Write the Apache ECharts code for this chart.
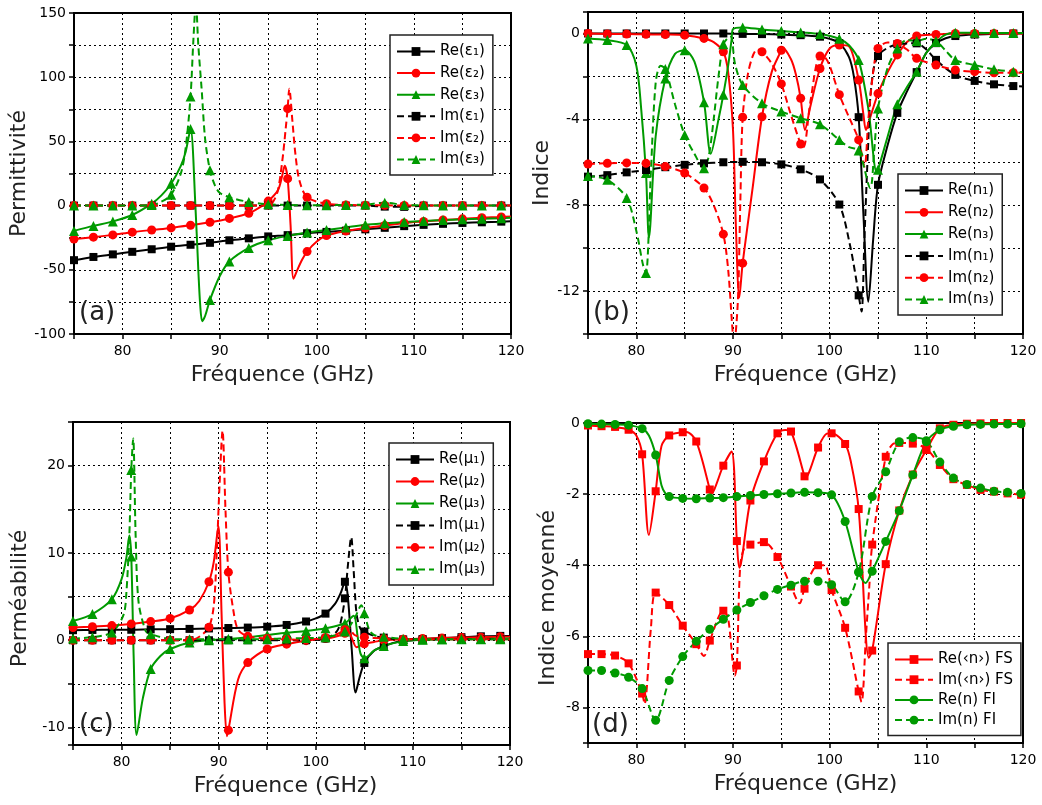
<!DOCTYPE html>
<html><head><meta charset="utf-8">
<script src="https://cdn.jsdelivr.net/npm/echarts/dist/echarts.min.js"></script>
<style>html,body{margin:0;padding:0;background:#fff}#c{width:1042px;height:805px}</style>
</head><body><div id="c"></div>
<script>
// ---------- DATA ----------
// marker frequencies (GHz) for panels a, b, c
const xOdd = [75,77,79,81,83,85,87,89,91,93,95,97,99,101,103,105,107,109,111,113,115,117,119];
// marker frequencies for panel d
const xD = [75,76.4,77.8,79.2,80.6,82,83.4,84.8,86.2,87.6,89,90.4,91.8,93.2,94.6,96,97.4,98.8,100.2,101.6,103,104.4,105.8,107.2,108.6,110,111.4,112.8,114.2,115.6,117,118.4,119.8];

// (a) Permittivité
const reE1 = [-42.5,-40,-38,-36,-34,-32,-30.5,-29,-27,-25.5,-24,-23,-21.5,-20.5,-19.5,-18.5,-17.3,-16,-15,-14.2,-13.5,-13,-12.5];
const reE1x = [[120,-12.2]];
const reE2 = [-26,-24.6,-22.8,-20.7,-19,-17.4,-15.3,-13,-10,-6,3.5,21,-35.8,-23.3,-19.8,-17.5,-15.5,-13.5,-12.3,-11.2,-10.3,-9.5,-8.8];
const reE2x = [[94,-2],[96,12],[96.4,22],[96.7,31],[97.3,-15],[97.6,-57],[98,-50],[98.5,-42],[100,-28],[120,-8.4]];
const reE3 = [-19.7,-15.8,-12.3,-7.3,1.5,17,59.7,-73.5,-43.5,-33,-27,-23.6,-21,-19,-17,-15,-13.8,-12.8,-12,-11.3,-10.7,-10.2,-9.8];
const reE3x = [[84,8],[86,31],[86.5,42],[87.5,0],[87.8,-50],[88,-78],[88.2,-90],[88.5,-86],[90,-55],[120,-9.5]];
const imE1 = [0,0,0,0,0,0,0,0,0,0,0,0,0,0,0,0,-0.8,-1,0,0,0,0,0];
const imE1x = [[120,0]];
const imE2 = [0,0,0,0,0,0,0,0,0,0,0.5,75.5,6.5,1.5,0.5,0.3,0.2,0.1,0,0,0,0,0];
const imE2x = [[95.5,3],[96,12],[96.5,38],[96.8,60],[97.17,91],[97.5,65],[97.8,40],[98.2,20],[120,0]];
const imE3 = [0,0,0,0,0.5,8.5,85,27.5,6.5,2.8,1,0.5,0.3,0.3,0.5,0.8,2.3,0.5,0.2,0,0,0,0];
const imE3x = [[84,3],[86,25],[86.5,45],[87.3,130],[87.55,158],[87.8,125],[88.15,90],[88.5,52],[89.5,16],[90,10],[120,0]];

// (b) Indice
const reN1 = [0,0,0,0,0,0,0,0,-0.02,-0.03,-0.05,-0.08,-0.15,-0.45,-3.9,-7.05,-3.7,-1.8,-0.45,-0.12,-0.05,-0.02,0];
const reN1x = [[100,-0.25],[102,-1.1],[102.5,-2],[103.5,-8.5],[104,-12.5],[104.5,-9.6],[106,-5.2],[108,-2.7],[110,-0.9],[112,-0.22],[120,0]];
const reN2 = [0,-0.02,-0.03,-0.04,-0.05,-0.08,-0.23,-0.85,-10.7,-3.88,-0.78,-3.02,-1.63,-0.54,-2.17,-2.8,-1.0,-0.12,-0.05,0,0,0,0];
const reN2x = [[88,-0.4],[89.5,-1.8],[90,-4.5],[90.3,-9],[90.65,-12.3],[92,-7.3],[94,-1.8],[95.1,-0.65],[96,-1.2],[96.5,-1.9],[97.45,-4.5],[98,-3.4],[100,-0.7],[102,-0.6],[103.5,-3.8],[103.75,-4.5],[104.2,-3.9],[106,-1.8],[108,-0.4],[120,0]];
const reN3 = [-0.23,-0.31,-0.54,-6.5,-2.1,-0.78,-3.2,-2.85,0.28,0.19,0.12,0.05,-0.03,-0.25,-1.24,-6.35,-3.3,-1.78,-0.4,0.03,0.03,0.02,0.02];
const reN3x = [[80,-1.5],[80.5,-3.5],[81.3,-9.5],[82,-4.8],[84,-0.95],[86,-1.3],[87.7,-5.6],[88.5,-4],[89.5,-1.5],[89.85,-0.3],[90,0.2],[102,-0.55],[104,-3.5],[104.85,-6.45],[106,-4.8],[108,-2.5],[110,-0.9],[112,-0.05],[120,0.02]];
const imN1 = [-6.67,-6.6,-6.47,-6.36,-6.23,-6.12,-6.05,-6.0,-5.98,-6.0,-6.1,-6.33,-6.8,-7.97,-12.2,-1.05,-0.5,-0.46,-1.23,-1.93,-2.21,-2.37,-2.45];
const imN1x = [[102.1,-9.85],[102.8,-11.6],[103.3,-12.95],[103.6,-9.5],[104,-5],[104.3,-2.5],[110,-0.75],[120,-2.47]];
const imN2 = [-6.08,-6.05,-6.03,-6.05,-6.2,-6.5,-7.2,-9.35,-3.9,-0.85,-2.35,-5.15,-1.05,-2.85,-4.96,-0.7,-0.47,-1.16,-1.47,-1.7,-1.78,-1.83,-1.83];
const imN2x = [[88,-8],[89.5,-11],[89.9,-13.5],[90.1,-14.5],[90.5,-12.5],[90.75,-8],[91.5,-2],[92,-1.1],[92.5,-0.75],[94,-1.4],[96,-3.8],[97.3,-5.3],[98,-3.2],[99.5,-1.1],[100,-1.5],[102,-3.9],[103.6,-6.2],[104,-4],[104.5,-1.8],[106,-0.42],[108,-0.75],[120,-1.83]];
const imN3 = [-6.64,-6.82,-7.67,-11.16,-1.65,-4.73,-6.28,-0.5,-2.4,-3.25,-3.64,-3.95,-4.23,-4.96,-5.45,-3.5,-0.7,-0.35,-0.35,-1.24,-1.47,-1.67,-1.78];
const imN3x = [[80,-9.2],[80.7,-10.8],[81.5,-6.5],[82,-2.3],[82.5,-1.5],[84,-3.3],[86,-5.6],[87.5,-5.7],[88,-4],[88.5,-2],[89.5,-0.2],[89.8,-0.15],[90.2,-1.4],[102,-5.3],[104.2,-7.2],[104.6,-5.5],[106,-1.6],[108,-0.3],[110,-0.25],[112,-0.8],[120,-1.8]];

// (c) Perméabilité
const reM1 = [1.15,1.18,1.2,1.2,1.25,1.27,1.3,1.35,1.4,1.45,1.55,1.75,2.15,3.05,6.7,-2.6,-0.7,-0.1,0.1,0.25,0.35,0.45,0.5];
const reM1x = [[100,2.5],[102,4.2],[102.6,5.5],[103.3,5],[103.7,-1],[104.1,-6],[104.5,-4.3],[106,-1.2],[108,-0.3],[120,0.5]];
const reM2 = [1.45,1.55,1.68,1.87,2.14,2.5,3.47,6.7,-10.3,-2.56,-1.0,-0.45,-0.05,0.2,0.8,-0.4,0.0,0.1,0.2,0.25,0.3,0.35,0.4];
const reM2x = [[88,4.5],[89.5,9],[89.97,13.1],[90.3,3],[90.6,-7],[90.85,-11],[92,-4.5],[102,0.4],[103.3,1.1],[103.8,0],[104.2,-0.8],[106,-0.2],[120,0.4]];
const reM3 = [2.2,3.0,4.7,9.6,-3.3,-1.0,-0.25,0.0,0.15,0.35,0.6,0.85,1.05,1.37,1.95,-2.06,-0.65,-0.1,0.05,0.1,0.15,0.15,0.2];
const reM3x = [[80,7],[80.5,9.5],[80.8,12],[81.25,-2],[81.55,-10.85],[82.2,-6.6],[84,-1.8],[103.9,2.8],[104.3,0.5],[104.6,-1.5],[106,-1.2],[120,0.2]];
const imM1 = [0,0,0,0,0,0,0,0,0,0,0,0,0,0.2,4.8,1.0,0.3,0.1,0.1,0.1,0.1,0.1,0.1];
const imM1x = [[102,0.8],[102.5,1.8],[103.3,8.5],[103.65,11.8],[103.9,8],[104.2,3],[104.6,1.3],[106,0.5],[120,0.1]];
const imM2 = [0,0,0,0,0,0,0,1.5,7.8,0.45,0.2,0.1,0.05,0.3,1.2,0.35,0.2,0.1,0.1,0.1,0.1,0.1,0.1];
const imM2x = [[88,0.4],[89.5,4],[89.8,10],[90.1,18],[90.4,24],[90.7,15],[91.5,3.5],[92,1.2],[102,0.6],[103.3,1.5],[104,0.6],[120,0.1]];
const imM3 = [0.2,0.35,0.9,19.5,0.7,0.15,0.1,0.1,0.1,0.1,0.15,0.2,0.25,0.35,1.0,3.1,0.4,0.15,0.1,0.1,0.1,0.1,0.1];
const imM3x = [[80.2,2.9],[80.5,5.5],[80.8,12],[81.2,23.1],[81.45,12],[81.75,4.4],[82.5,1.0],[104,2.5],[104.7,4.0],[105.5,1.2],[106,0.6],[120,0.1]];

// (d) Indice moyenné
const reFS = [-0.07,-0.09,-0.11,-0.19,-0.88,-1.92,-0.35,-0.26,-0.52,-1.87,-1.2,-3.32,-2.18,-1.08,-0.29,-0.24,-1.5,-0.69,-0.29,-0.59,-2.42,-6.4,-3.97,-2.46,-1.45,-0.76,-0.15,-0.05,-0.02,-0.01,0,0,0];
const reFSx = [[80,-0.35],[81.3,-3.15],[82.6,-0.65],[85.2,-0.25],[87.7,-2.0],[89.85,-0.8],[90.65,-4.07],[95.4,-0.2],[97.45,-1.55],[99.7,-0.3],[102.2,-1.1],[104.05,-6.6],[120,0]];
const imFS = [-6.5,-6.5,-6.54,-6.76,-7.61,-4.77,-5.12,-5.7,-6.22,-6.12,-5.28,-6.82,-3.42,-3.35,-3.77,-4.6,-4.66,-4.0,-4.7,-5.76,-7.55,-3.42,-0.95,-0.56,-0.58,-0.72,-1.18,-1.58,-1.74,-1.88,-1.93,-1.98,-2.02];
const imFSx = [[80.85,-7.9],[81.5,-5.8],[87,-6.55],[89.5,-5.5],[90.2,-7.1],[90.75,-4.0],[91.2,-3.5],[96.9,-5.07],[99.5,-4.0],[103.3,-7.85],[103.75,-6],[104.1,-4.6],[106.5,-0.6],[120,-2.03]];
const reFI = [-0.02,-0.03,-0.04,-0.06,-0.16,-0.9,-2.07,-2.12,-2.13,-2.11,-2.1,-2.07,-2.04,-2.01,-1.99,-1.97,-1.95,-1.96,-2.02,-2.77,-4.19,-4.17,-3.33,-2.47,-1.46,-0.53,-0.19,-0.09,-0.05,-0.04,-0.03,-0.03,-0.02];
const reFIx = [[81.3,-0.35],[82.6,-1.75],[83,-1.98],[103.7,-4.5],[120,-0.02]];
const imFI = [-6.96,-6.96,-7.03,-7.15,-7.47,-8.36,-7.24,-6.57,-6.14,-5.8,-5.52,-5.26,-5.05,-4.86,-4.68,-4.56,-4.45,-4.45,-4.55,-5.03,-4.2,-2.07,-1.37,-0.53,-0.41,-0.5,-1.1,-1.55,-1.73,-1.83,-1.92,-1.95,-1.98];
const imFIx = [[120,-2.0]];

// names
const namesA = ['Re(ε₁)','Re(ε₂)','Re(ε₃)','Im(ε₁)','Im(ε₂)','Im(ε₃)'];
const namesB = ['Re(n₁)','Re(n₂)','Re(n₃)','Im(n₁)','Im(n₂)','Im(n₃)'];
const namesC = ['Re(μ₁)','Re(μ₂)','Re(μ₃)','Im(μ₁)','Im(μ₂)','Im(μ₃)'];
const namesD = ['Re(‹n›) FS','Im(‹n›) FS','Re(n) FI','Im(n) FI'];
const xName = 'Fréquence (GHz)';
const yNames = ['Permittivité','Indice','Perméabilité','Indice moyenné'];
const panelTags = ['(a)','(b)','(c)','(d)'];

// ---------- STYLE / BUILD ----------
const K = '#000000', R = '#ff0000', G = '#009a00';
const FONT = '"DejaVu Sans", Verdana, sans-serif';
const symSize = {rect: 8, circle: 9, triangle: 10};

const series = [];
function curve(gi, name, color, symbol, dashed, mx, my, extra) {
  const markers = mx.map((x, i) => [x, my[i]]);
  const line = markers.concat(extra).sort((a, b) => a[0] - b[0]);
  series.push({
    type: 'line', name, xAxisIndex: gi, yAxisIndex: gi, data: line,
    smooth: 0.3, showSymbol: false, symbol, symbolSize: symSize[symbol],
    lineStyle: {color, width: 2, type: dashed ? [7, 4] : 'solid'},
    itemStyle: {color}, z: 2, silent: true, clip: true
  });
  series.push({
    type: 'scatter', name, xAxisIndex: gi, yAxisIndex: gi, data: markers,
    symbol, symbolSize: symSize[symbol], itemStyle: {color, opacity: 1}, z: 3, silent: true, clip: true
  });
}
curve(0, namesA[0], K, 'rect', false, xOdd, reE1, reE1x);
curve(0, namesA[1], R, 'circle', false, xOdd, reE2, reE2x);
curve(0, namesA[2], G, 'triangle', false, xOdd, reE3, reE3x);
curve(0, namesA[3], K, 'rect', true, xOdd, imE1, imE1x);
curve(0, namesA[4], R, 'circle', true, xOdd, imE2, imE2x);
curve(0, namesA[5], G, 'triangle', true, xOdd, imE3, imE3x);

curve(1, namesB[0], K, 'rect', false, xOdd, reN1, reN1x);
curve(1, namesB[1], R, 'circle', false, xOdd, reN2, reN2x);
curve(1, namesB[2], G, 'triangle', false, xOdd, reN3, reN3x);
curve(1, namesB[3], K, 'rect', true, xOdd, imN1, imN1x);
curve(1, namesB[4], R, 'circle', true, xOdd, imN2, imN2x);
curve(1, namesB[5], G, 'triangle', true, xOdd, imN3, imN3x);

curve(2, namesC[0], K, 'rect', false, xOdd, reM1, reM1x);
curve(2, namesC[1], R, 'circle', false, xOdd, reM2, reM2x);
curve(2, namesC[2], G, 'triangle', false, xOdd, reM3, reM3x);
curve(2, namesC[3], K, 'rect', true, xOdd, imM1, imM1x);
curve(2, namesC[4], R, 'circle', true, xOdd, imM2, imM2x);
curve(2, namesC[5], G, 'triangle', true, xOdd, imM3, imM3x);

curve(3, namesD[0], R, 'rect', false, xD, reFS, reFSx);
curve(3, namesD[1], R, 'rect', true, xD, imFS, imFSx);
curve(3, namesD[2], G, 'circle', false, xD, reFI, reFIx);
curve(3, namesD[3], G, 'circle', true, xD, imFI, imFIx);

const grids = [
  {left: 74, top: 13, width: 437, height: 321},
  {left: 588, top: 12, width: 435, height: 322},
  {left: 73, top: 422, width: 437, height: 323},
  {left: 588, top: 423, width: 435, height: 320}
].map(g => Object.assign(g, {show: true, borderColor: '#000', borderWidth: 2, containLabel: false}));

const yConf = [
  {min: -100, max: 150, interval: 25, step: 50, gap: 43, pad: [0, 0, 0, 0]},
  {min: -14, max: 1, interval: 2, step: 4, gap: 29, pad: [0, 0, 0, 0]},
  {min: -12, max: 25, minInterval: 5, maxInterval: 5, step: 10, gap: 42, pad: [0, 30, 0, 0]},
  {min: -9, max: 0, minInterval: 2, maxInterval: 2, step: 2, gap: 29, pad: [0, 30, 0, 0]}
];
const xPad = [[0, 20, 0, 0], [0, 0, 0, 0], [0, 12, 0, 0], [0, 0, 0, 0]];

const axisCommon = {
  axisLine: {show: true, onZero: false, lineStyle: {color: '#000', width: 2}},
  axisTick: {show: true, inside: false, length: 5, lineStyle: {color: '#000', width: 1.5}},
  splitLine: {show: true, lineStyle: {color: '#000', width: 1, type: [2, 3]}}
};

const xAxes = grids.map((g, i) => Object.assign({
  gridIndex: i, type: 'value', min: 75, max: 120, interval: 5,
  axisLabel: {formatter: v => (v % 10 === 0 ? String(v) : ''), color: '#000', fontSize: 14, fontFamily: FONT, margin: 10},
  name: xName, nameLocation: 'middle', nameGap: 30,
  nameTextStyle: {fontSize: 22, fontFamily: FONT, color: '#222', padding: xPad[i]}
}, axisCommon));

const yAxes = yConf.map((c, i) => {
  const ax = Object.assign({
    gridIndex: i, type: 'value', min: c.min, max: c.max,
    axisLabel: {formatter: v => (Math.abs(v % c.step) < 1e-9 ? String(v) : ''), color: '#000', fontSize: 14, fontFamily: FONT, margin: 8},
    name: yNames[i], nameLocation: 'middle', nameGap: c.gap,
    nameTextStyle: {fontSize: 22, fontFamily: FONT, color: '#222', padding: c.pad}
  }, axisCommon);
  if (c.interval) ax.interval = c.interval;
  if (c.minInterval) { ax.minInterval = c.minInterval; ax.maxInterval = c.maxInterval; }
  return ax;
});

const legendPos = [
  {names: namesA, left: 390, top: 35, gap: 6.6},
  {names: namesB, left: 898, top: 174, gap: 6.8},
  {names: namesC, left: 389, top: 443, gap: 7},
  {names: namesD, left: 888, top: 643, gap: 5.2}
];
const legends = legendPos.map(p => ({
  data: p.names, orient: 'vertical', left: p.left, top: p.top,
  itemWidth: 38, itemHeight: 11, itemGap: p.gap, selectedMode: false,
  textStyle: {fontSize: 15, fontFamily: FONT, color: '#000'},
  backgroundColor: '#fff', borderColor: '#222', borderWidth: 1.5, borderRadius: 0,
  padding: [9, 8, 8, 6]
}));

const tagPos = [[79, 313], [593, 313], [79, 725], [592, 725]];
const graphics = tagPos.map((p, i) => ({
  type: 'text', x: p[0], y: p[1], z: 100,
  style: {text: panelTags[i], font: '26px ' + FONT, fill: '#222', verticalAlign: 'middle'}
}));

const chart = echarts.init(document.getElementById('c'), null, {renderer: 'canvas'});
chart.setOption({
  animation: false,
  backgroundColor: '#fff',
  grid: grids, xAxis: xAxes, yAxis: yAxes,
  legend: legends, series, graphic: graphics
});
</script></body></html>
